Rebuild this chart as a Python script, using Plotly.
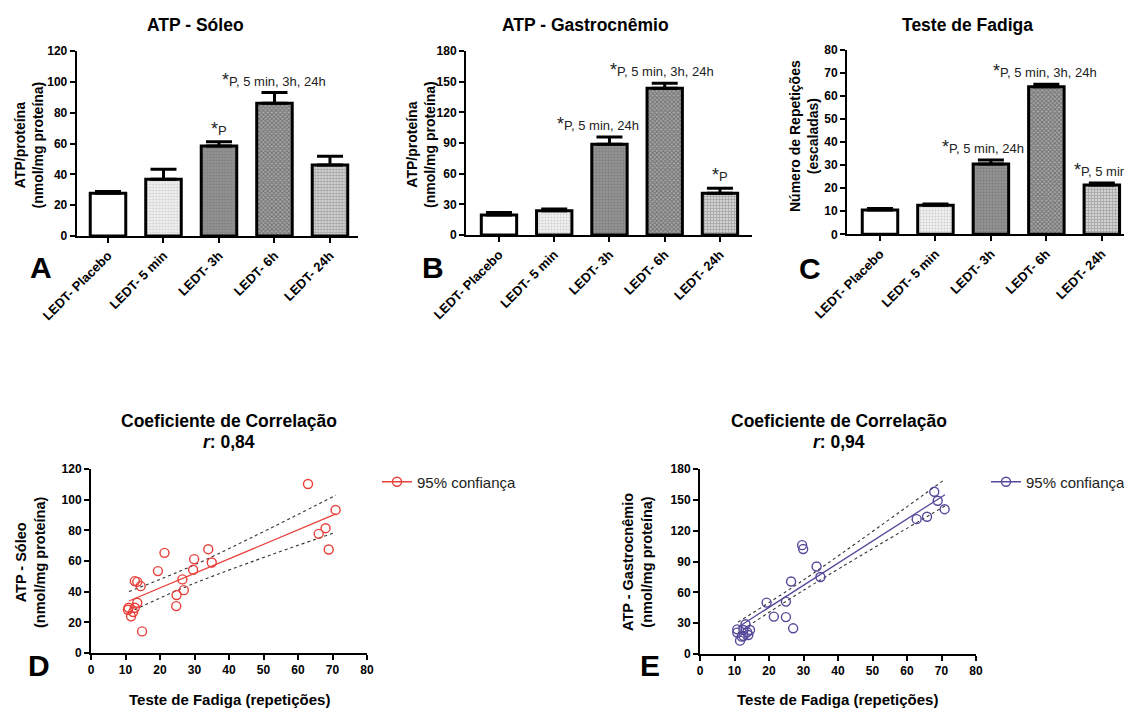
import plotly.graph_objects as go

W, H = 1124, 709
FONT = "Liberation Sans, Arial, sans-serif"


def px(x):
    return x / W


def py(y):
    return 1 - y / H


# ---------------- data ----------------
categories = ["LEDT- Placebo", "LEDT- 5 min", "LEDT- 3h", "LEDT- 6h", "LEDT- 24h"]

atp_soleo = [27.7, 36.8, 58.4, 86.1, 46.0]
atp_soleo_err = [1.1, 6.5, 2.8, 6.9, 5.8]

atp_gastro = [19.6, 23.8, 88.7, 143.5, 40.8]
atp_gastro_err = [2.3, 1.6, 7.2, 4.9, 4.9]

fadiga = [10.6, 12.6, 30.5, 64.1, 21.4]
fadiga_err = [0.6, 0.6, 1.7, 1.0, 0.9]

signif_soleo = ["", "", "*P", "*P, 5 min, 3h, 24h", ""]
signif_gastro = ["", "", "*P, 5 min, 24h", "*P, 5 min, 3h, 24h", "*P"]
signif_fadiga = ["", "", "*P, 5 min, 24h", "*P, 5 min, 3h, 24h", "*P, 5 min"]

# correlation D: fatigue test (x) vs ATP soleus (y)
fad_d = [62.9, 70.9, 66.0, 68.0, 68.9, 34.0, 35.0, 29.9, 29.6, 21.3, 19.4, 26.5, 26.9,
         24.8, 24.7, 14.8, 12.7, 13.4, 14.4, 13.4, 10.9, 10.7, 12.7, 12.2, 11.6]
atp_d = [110.2, 93.3, 77.7, 81.4, 67.5, 67.7, 59.0, 61.2, 54.3, 65.3, 53.4, 48.0, 41.0,
         37.8, 30.6, 14.1, 46.9, 46.4, 43.6, 32.8, 29.5, 28.2, 29.5, 26.7, 23.9]
fit_d_x = [11, 71]
fit_d_y = [33.9, 90.7]
ci_d_x = [11, 30, 71]
ci_d_up = [40.1, 57.5, 102.9]
ci_d_lo = [26.5, 45.5, 78.8]

# correlation E: fatigue test (x) vs ATP gastrocnemius (y)
fad_e = [67.9, 68.9, 70.9, 62.8, 65.8, 29.6, 29.9, 33.8, 34.9, 26.4, 19.3, 24.9, 21.4,
         24.9, 27.0, 10.8, 10.8, 11.6, 13.2, 12.6, 12.6, 13.7, 14.5, 14.0, 12.1]
atp_e = [157.9, 149.1, 140.9, 131.2, 133.5, 105.9, 102.1, 85.1, 74.9, 70.5, 50.0, 51.0, 36.4,
         35.9, 25.0, 24.0, 20.8, 13.0, 28.9, 23.4, 17.5, 21.1, 23.4, 18.5, 16.9]
fit_e_x = [11, 71]
fit_e_y = [26.0, 155.0]
ci_e_x = [11, 30, 71]
ci_e_up = [31.0, 72.0, 170.0]
ci_e_lo = [20.5, 62.0, 144.0]

RED = "#e8403a"
PURPLE = "#56499a"

# bar fill styles (white, stipple, dark, checker, light grid)
bar_patterns = [
    dict(shape="", bgcolor="white"),
    dict(shape=".", fgcolor="#b0b0b0", bgcolor="#f0f0f0", size=3, solidity=0.35),
    dict(shape=".", fgcolor="#6a6a6a", bgcolor="#929292", size=3, solidity=0.35),
    dict(shape="x", fgcolor="#3a3a3a", bgcolor="#a6a6a6", size=3, solidity=0.5),
    dict(shape="+", fgcolor="#7a7a7a", bgcolor="#d2d2d2", size=3, solidity=0.45),
]
bar_colors = ["white", "#f0f0f0", "#929292", "#a6a6a6", "#d2d2d2"]

fig = go.Figure()

bar_panels = [
    ("x", "y", atp_soleo, atp_soleo_err),
    ("x2", "y2", atp_gastro, atp_gastro_err),
    ("x3", "y3", fadiga, fadiga_err),
]

idx = list(range(len(categories)))
for xa, ya, vals, errs in bar_panels:
    for i in idx:
        fig.add_trace(go.Bar(
            x=[i], y=[vals[i]], xaxis=xa, yaxis=ya, width=0.64,
            marker=dict(color=bar_colors[i], pattern=bar_patterns[i],
                        line=dict(color="black", width=3)),
            error_y=dict(type="data", symmetric=False, array=[errs[i]], arrayminus=[0],
                         color="black", thickness=3, width=13),
            showlegend=False, hoverinfo="skip",
        ))


# scatter panels
def add_corr(xa, ya, xs, ys, fx, fy, cx, cu, cl, color, legend):
    for band in (cu, cl):
        fig.add_trace(go.Scatter(x=cx, y=band, xaxis=xa, yaxis=ya, mode="lines",
                                 line=dict(color="#333333", width=1.1, dash="dot", shape="spline"),
                                 showlegend=False, hoverinfo="skip"))
    fig.add_trace(go.Scatter(x=fx, y=fy, xaxis=xa, yaxis=ya, mode="lines",
                             line=dict(color=color, width=1.3),
                             showlegend=False, hoverinfo="skip"))
    fig.add_trace(go.Scatter(x=xs, y=ys, xaxis=xa, yaxis=ya, mode="markers",
                             marker=dict(symbol="circle-open", size=9, color=color,
                                         line=dict(width=1.4)),
                             showlegend=False))
    fig.add_trace(go.Scatter(x=[None], y=[None], xaxis=xa, yaxis=ya, mode="lines+markers",
                             name="95% confiança", legend=legend,
                             marker=dict(symbol="circle-open", size=9, color=color,
                                         line=dict(width=1.4)),
                             line=dict(color=color, width=1.3)))


add_corr("x4", "y4", fad_d, atp_d, fit_d_x, fit_d_y, ci_d_x, ci_d_up, ci_d_lo, RED, "legend")
add_corr("x5", "y5", fad_e, atp_e, fit_e_x, fit_e_y, ci_e_x, ci_e_up, ci_e_lo, PURPLE, "legend2")

tickfont = dict(family=FONT, size=12, color="black", weight="bold")
common_axis = dict(showline=True, linecolor="black", linewidth=2, ticks="outside",
                   ticklen=5, tickwidth=2, tickcolor="black", showgrid=False,
                   zeroline=False, tickfont=tickfont, fixedrange=True)
cat_axis = dict(common_axis)
cat_axis["tickfont"] = dict(family=FONT, size=13, color="black", weight="bold")

layout = dict(
    width=W, height=H, plot_bgcolor="white", paper_bgcolor="white",
    margin=dict(l=0, r=0, t=0, b=0, autoexpand=False),
    barmode="overlay", showlegend=True,
    font=dict(family=FONT, color="black"),
)

# bar axes
layout["xaxis"] = dict(domain=[px(76.7), px(358)], range=[-0.564, 4.505], anchor="y",
                       tickvals=idx, ticktext=categories, tickangle=-45, **cat_axis)
layout["yaxis"] = dict(domain=[py(236), py(51)], range=[0, 120], dtick=20, anchor="x", **common_axis)
layout["xaxis2"] = dict(domain=[px(466), px(752)], range=[-0.597, 4.58], anchor="y2",
                        tickvals=idx, ticktext=categories, tickangle=-45, **cat_axis)
layout["yaxis2"] = dict(domain=[py(235), py(51)], range=[0, 180], dtick=30, anchor="x2", **common_axis)
layout["xaxis3"] = dict(domain=[px(847), 1.0], range=[-0.595, 4.40], anchor="y3",
                        tickvals=idx, ticktext=categories, tickangle=-45, **cat_axis)
layout["yaxis3"] = dict(domain=[py(234.3), py(50)], range=[0, 80], dtick=10, anchor="x3", **common_axis)
# scatter axes
layout["xaxis4"] = dict(domain=[px(91), px(367)], range=[0, 80], dtick=10, anchor="y4", **common_axis)
layout["yaxis4"] = dict(domain=[py(653), py(469)], range=[0, 120], dtick=20, anchor="x4", **common_axis)
layout["xaxis5"] = dict(domain=[px(700), px(976)], range=[0, 80], dtick=10, anchor="y5", **common_axis)
layout["yaxis5"] = dict(domain=[py(654), py(469)], range=[0, 180], dtick=30, anchor="x5", **common_axis)

legfont = dict(family=FONT, size=15, color="#222222")
layout["legend"] = dict(x=px(377), y=py(482), xanchor="left", yanchor="middle",
                        font=legfont, bgcolor="rgba(0,0,0,0)", itemwidth=30)
layout["legend2"] = dict(x=px(986), y=py(482), xanchor="left", yanchor="middle",
                         font=legfont, bgcolor="rgba(0,0,0,0)", itemwidth=30)

fig.update_layout(**layout)

ann = []


def paper_text(x, y, text, size, bold=True, angle=0, xanchor="center"):
    ann.append(dict(x=px(x), y=py(y), xref="paper", yref="paper", text=text,
                    showarrow=False, textangle=angle, xanchor=xanchor, yanchor="middle",
                    font=dict(family=FONT, size=size, color="black",
                              weight="bold" if bold else "normal")))


# titles
paper_text(195, 25, "ATP - Sóleo", 17.5)
paper_text(585, 25, "ATP - Gastrocnêmio", 17.5)
paper_text(967, 25, "Teste de Fadiga", 17.5)
paper_text(229, 421, "Coeficiente de Correlação", 17.5)
paper_text(229, 442, "<i>r</i>: 0,84", 17.5)
paper_text(839, 421, "Coeficiente de Correlação", 17.5)
paper_text(839, 442, "<i>r</i>: 0,94", 17.5)

# y-axis titles
paper_text(28.5, 145, "ATP/proteína<br>(nmol/mg proteína)", 14, angle=-90)
paper_text(421, 145, "ATP/proteína<br>(nmol/mg proteína)", 14, angle=-90)
paper_text(804, 136, "Número de Repetições<br>(escaladas)", 14, angle=-90)
paper_text(30, 563, "ATP - Sóleo<br>(nmol/mg proteína)", 14.5, angle=-90)
paper_text(637, 562, "ATP - Gastrocnêmio<br>(nmol/mg proteína)", 14.5, angle=-90)

# x-axis titles
paper_text(229, 699, "Teste de Fadiga (repetições)", 15)
paper_text(837, 699, "Teste de Fadiga (repetições)", 15)

# panel letters
paper_text(41, 267, "A", 30)
paper_text(433, 267, "B", 30)
paper_text(810, 268, "C", 30)
paper_text(39, 665, "D", 30)
paper_text(650, 665, "E", 30)


def star(txt):
    return "<span style='font-size:18px'>*</span>" + txt[1:]


sig_sets = [("x", "y", atp_soleo, atp_soleo_err, signif_soleo, [0, 0, 0, 0, 0]),
            ("x2", "y2", atp_gastro, atp_gastro_err, signif_gastro, [0, 0, -11, -3, 0]),
            ("x3", "y3", fadiga, fadiga_err, signif_fadiga, [0, 0, -8, -1, 0])]
for xa, ya, vals, errs, sig, shifts in sig_sets:
    for i in idx:
        if not sig[i]:
            continue
        a = dict(x=i, y=vals[i] + errs[i], xref=xa, yref=ya, text=star(sig[i]),
                 showarrow=False, yanchor="bottom", yshift=1, xshift=shifts[i],
                 font=dict(family=FONT, size=13, color="#222222"))
        if xa == "x3" and i == 4:
            a["xanchor"] = "left"
            a["xshift"] = -30
        ann.append(a)

fig.update_layout(annotations=ann)

fig.write_html("out.html", config={"displayModeBar": False},
               post_script="document.body.style.margin='0';document.body.style.overflow='hidden';")
